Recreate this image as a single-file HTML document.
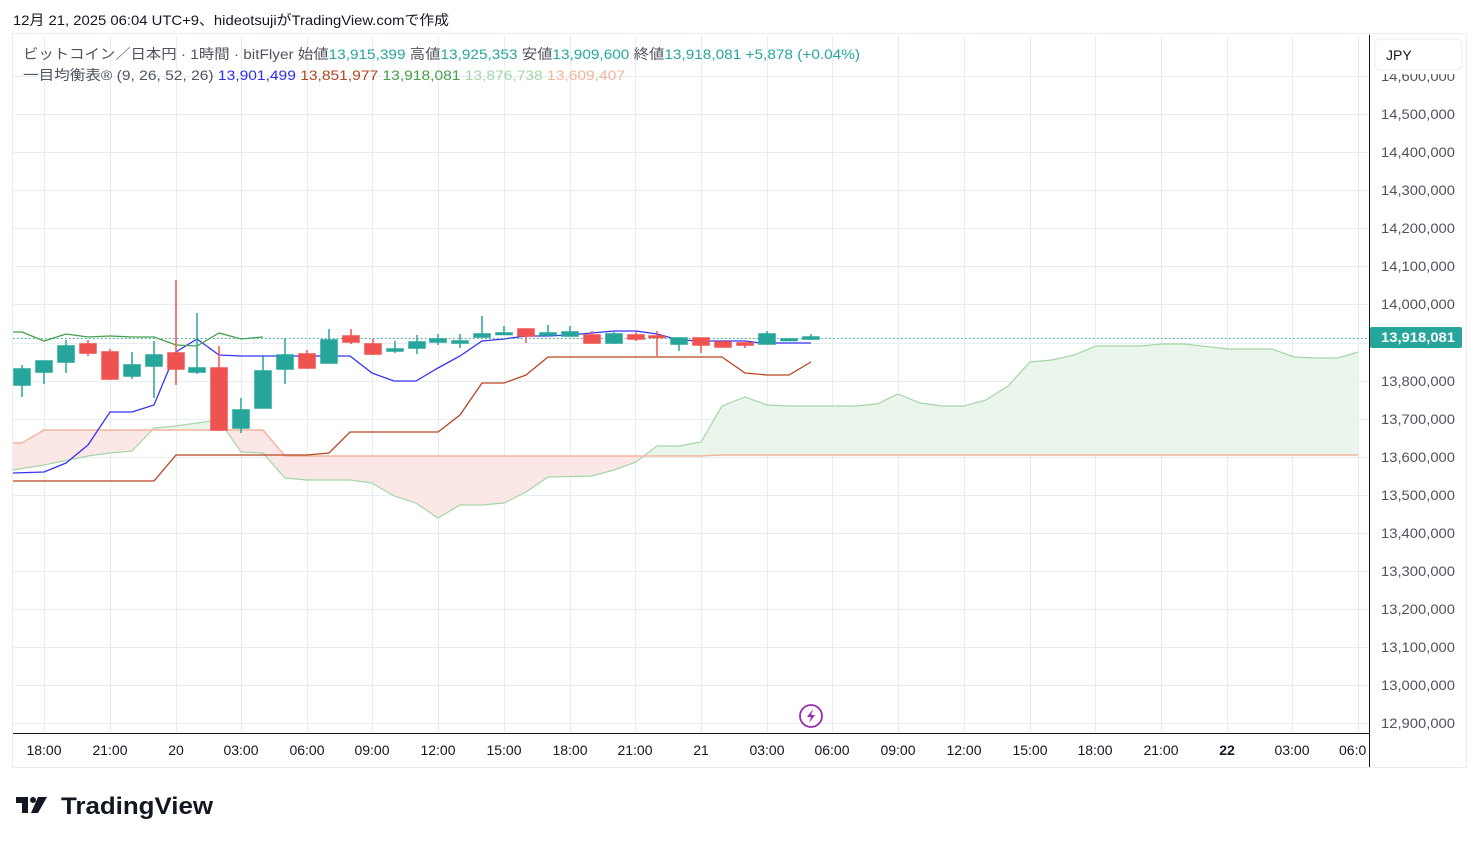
<!DOCTYPE html>
<html><head><meta charset="utf-8"><style>
html,body{margin:0;padding:0;background:#fff;width:1479px;height:843px;overflow:hidden;font-family:"Liberation Sans","Noto Sans CJK JP",sans-serif}
</style></head><body>
<svg width="1479" height="843" xmlns="http://www.w3.org/2000/svg" font-family="'Liberation Sans','Noto Sans CJK JP',sans-serif" xml:space="preserve">
<text x="13" y="25" font-size="14" fill="#131722" textLength="436" lengthAdjust="spacingAndGlyphs">12月 21, 2025 06:04 UTC+9、hideotsujiがTradingView.comで作成</text>
<rect x="12.5" y="33.5" width="1454" height="734" fill="none" stroke="#e9ecf1"/>
<g stroke="#e6edf3" stroke-width="1">
<line x1="13" x2="1369" y1="76.5" y2="76.5"/><line x1="13" x2="1369" y1="114.5" y2="114.5"/><line x1="13" x2="1369" y1="152.5" y2="152.5"/><line x1="13" x2="1369" y1="190.5" y2="190.5"/><line x1="13" x2="1369" y1="228.5" y2="228.5"/><line x1="13" x2="1369" y1="266.5" y2="266.5"/><line x1="13" x2="1369" y1="304.5" y2="304.5"/><line x1="13" x2="1369" y1="343.5" y2="343.5"/><line x1="13" x2="1369" y1="381.5" y2="381.5"/><line x1="13" x2="1369" y1="419.5" y2="419.5"/><line x1="13" x2="1369" y1="457.5" y2="457.5"/><line x1="13" x2="1369" y1="495.5" y2="495.5"/><line x1="13" x2="1369" y1="533.5" y2="533.5"/><line x1="13" x2="1369" y1="571.5" y2="571.5"/><line x1="13" x2="1369" y1="609.5" y2="609.5"/><line x1="13" x2="1369" y1="647.5" y2="647.5"/><line x1="13" x2="1369" y1="685.5" y2="685.5"/><line x1="13" x2="1369" y1="723.5" y2="723.5"/>
<line y1="35" y2="733" x1="44.5" x2="44.5"/><line y1="35" y2="733" x1="110.5" x2="110.5"/><line y1="35" y2="733" x1="176.5" x2="176.5"/><line y1="35" y2="733" x1="241.5" x2="241.5"/><line y1="35" y2="733" x1="307.5" x2="307.5"/><line y1="35" y2="733" x1="372.5" x2="372.5"/><line y1="35" y2="733" x1="438.5" x2="438.5"/><line y1="35" y2="733" x1="504.5" x2="504.5"/><line y1="35" y2="733" x1="570.5" x2="570.5"/><line y1="35" y2="733" x1="635.5" x2="635.5"/><line y1="35" y2="733" x1="701.5" x2="701.5"/><line y1="35" y2="733" x1="767.5" x2="767.5"/><line y1="35" y2="733" x1="832.5" x2="832.5"/><line y1="35" y2="733" x1="898.5" x2="898.5"/><line y1="35" y2="733" x1="964.5" x2="964.5"/><line y1="35" y2="733" x1="1030.5" x2="1030.5"/><line y1="35" y2="733" x1="1095.5" x2="1095.5"/><line y1="35" y2="733" x1="1161.5" x2="1161.5"/><line y1="35" y2="733" x1="1227.5" x2="1227.5"/><line y1="35" y2="733" x1="1292.5" x2="1292.5"/><line y1="35" y2="733" x1="1358.5" x2="1358.5"/>
</g>
<defs>
<clipPath id="above"><polygon points="13,443 22,443 44,430 263,430 285,456 307,456 700,456 722,455 1360,455 1360,0 13,0"/></clipPath>
<clipPath id="below"><polygon points="13,443 22,443 44,430 263,430 285,456 307,456 700,456 722,455 1360,455 1360,800 13,800"/></clipPath>
</defs>
<g>
<polygon clip-path="url(#above)" fill="#e8f5e9" fill-opacity="0.9" points="13,470 44,465 88,456 110,453 132,451 154,428 176,426 197,423 219,420 241,452 263,453 285,478 307,480 350,480 372,483 394,496 416,503 438,518 460,505 482,505 504,503 526,492 548,477 592,476 614,470 636,462 657,446 679,446 701,442 722,406 745,397 767,405 789,406 855,406 877,404 898,394 920,403 942,406 964,406 986,400 1008,386 1030,362 1052,360 1074,355 1096,346 1140,346 1162,344 1184,344 1228,349 1272,349 1294,357 1316,358 1338,358 1358,352 1358,455 722,455 700,456 307,456 285,456 263,430 44,430 22,443 13,443"/>
<polygon clip-path="url(#below)" fill="#fce4e4" fill-opacity="0.9" points="13,470 44,465 88,456 110,453 132,451 154,428 176,426 197,423 219,420 241,452 263,453 285,478 307,480 350,480 372,483 394,496 416,503 438,518 460,505 482,505 504,503 526,492 548,477 592,476 614,470 636,462 657,446 679,446 701,442 722,406 745,397 767,405 789,406 855,406 877,404 898,394 920,403 942,406 964,406 986,400 1008,386 1030,362 1052,360 1074,355 1096,346 1140,346 1162,344 1184,344 1228,349 1272,349 1294,357 1316,358 1338,358 1358,352 1358,455 722,455 700,456 307,456 285,456 263,430 44,430 22,443 13,443"/>
<polyline fill="none" stroke="#a5d6a7" stroke-width="1.2" points="13,470 44,465 88,456 110,453 132,451 154,428 176,426 197,423 219,420 241,452 263,453 285,478 307,480 350,480 372,483 394,496 416,503 438,518 460,505 482,505 504,503 526,492 548,477 592,476 614,470 636,462 657,446 679,446 701,442 722,406 745,397 767,405 789,406 855,406 877,404 898,394 920,403 942,406 964,406 986,400 1008,386 1030,362 1052,360 1074,355 1096,346 1140,346 1162,344 1184,344 1228,349 1272,349 1294,357 1316,358 1338,358 1358,352"/>
<polyline fill="none" stroke="#f4b59a" stroke-width="1.5" points="13,443 22,443 44,430 263,430 285,456 307,456 700,456 722,455 1358,455"/>
</g>
<polyline fill="none" stroke="#b5461f" stroke-width="1.3" points="13,481 154,481 176,455 307,455 329,453 350,432 438,432 460,415 482,383 504,383 526,375 548,357 722,357 745,373 767,375 789,375 811,362"/>
<polyline fill="none" stroke="#3434f5" stroke-width="1.3" points="13,473 44,472 66,463 88,445 110,412 132,412 154,405 176,352 197,339 219,355 241,356 350,356 372,373 394,381 416,381 438,368 460,356 482,341 504,339 526,336 548,336 570,335 614,331 636,331 657,334 679,340 701,341 745,341 760,343 811,343"/>
<polyline fill="none" stroke="#43a047" stroke-width="1.3" points="13,332 22,332 44,341 66,334 88,337 110,336 132,337 154,337 176,345 197,346 219,333 241,339 263,337"/>
<line x1="13" x2="1369" y1="338.5" y2="338.5" stroke="#26a69a" stroke-dasharray="1.5,2.5" stroke-width="1"/>
<g stroke-width="1.5">
<g stroke="#26a69a" fill="#26a69a">
<line x1="22" x2="22" y1="365" y2="397"/><rect x="14" y="369" width="16" height="16"/>
<line x1="44" x2="44" y1="361" y2="384"/><rect x="36" y="361" width="16" height="11"/>
<line x1="66" x2="66" y1="340" y2="373"/><rect x="58" y="346" width="16" height="16"/>
<line x1="132" x2="132" y1="352" y2="379"/><rect x="124" y="365" width="16" height="11"/>
<line x1="154" x2="154" y1="341" y2="398"/><rect x="146" y="355" width="16" height="11"/>
<line x1="197" x2="197" y1="313" y2="374"/><rect x="189" y="368" width="16" height="4"/>
<line x1="241" x2="241" y1="398" y2="433"/><rect x="233" y="410" width="16" height="18"/>
<line x1="263" x2="263" y1="355" y2="408"/><rect x="255" y="371" width="16" height="37"/>
<line x1="285" x2="285" y1="338" y2="384"/><rect x="277" y="355" width="16" height="14"/>
<line x1="329" x2="329" y1="329" y2="363"/><rect x="321" y="340" width="16" height="23"/>
<line x1="395" x2="395" y1="341" y2="353"/><rect x="387" y="349" width="16" height="2"/>
<line x1="417" x2="417" y1="335" y2="354"/><rect x="409" y="342" width="16" height="6"/>
<line x1="438" x2="438" y1="334" y2="345"/><rect x="430" y="339" width="16" height="3"/>
<line x1="460" x2="460" y1="334" y2="348"/><rect x="452" y="341" width="16" height="2"/>
<line x1="482" x2="482" y1="316" y2="337"/><rect x="474" y="334" width="16" height="3"/>
<line x1="504" x2="504" y1="326" y2="335"/><rect x="496" y="333" width="16" height="1.5"/>
<line x1="548" x2="548" y1="325" y2="336"/><rect x="540" y="333" width="16" height="2"/>
<line x1="570" x2="570" y1="326" y2="336"/><rect x="562" y="332" width="16" height="4"/>
<line x1="614" x2="614" y1="332" y2="344"/><rect x="606" y="334" width="16" height="9"/>
<line x1="679" x2="679" y1="338" y2="351"/><rect x="671" y="338" width="16" height="6"/>
<line x1="767" x2="767" y1="331" y2="344"/><rect x="759" y="334" width="16" height="10"/>
<rect x="781" y="339" width="16" height="1.5"/>
<line x1="811" x2="811" y1="334" y2="340"/><rect x="803" y="337" width="16" height="2"/>
</g>
<g stroke="#ef5350" fill="#ef5350">
<line x1="88" x2="88" y1="340" y2="356"/><rect x="80" y="344" width="16" height="9"/>
<line x1="110" x2="110" y1="349" y2="380"/><rect x="102" y="352" width="16" height="27"/>
<line x1="176" x2="176" y1="280" y2="385"/><rect x="168" y="353" width="16" height="16"/>
<line x1="219" x2="219" y1="346" y2="431"/><rect x="211" y="368" width="16" height="62"/>
<line x1="307" x2="307" y1="350" y2="368"/><rect x="299" y="354" width="16" height="14"/>
<line x1="351" x2="351" y1="329" y2="344"/><rect x="343" y="336" width="16" height="6"/>
<line x1="373" x2="373" y1="339" y2="355"/><rect x="365" y="344" width="16" height="10"/>
<line x1="526" x2="526" y1="329" y2="343"/><rect x="518" y="329" width="16" height="7"/>
<line x1="592" x2="592" y1="331" y2="343"/><rect x="584" y="335" width="16" height="8"/>
<line x1="636" x2="636" y1="332" y2="341"/><rect x="628" y="335" width="16" height="4"/>
<line x1="657" x2="657" y1="331" y2="356"/><rect x="649" y="336" width="16" height="1.5"/>
<line x1="701" x2="701" y1="338" y2="353"/><rect x="693" y="338" width="16" height="7"/>
<line x1="723" x2="723" y1="340" y2="347"/><rect x="715" y="342" width="16" height="5"/>
<line x1="745" x2="745" y1="341" y2="348"/><rect x="737" y="343" width="16" height="2"/>
</g>
</g>
<circle cx="811" cy="716" r="11" fill="#fff" stroke="#9c27b0" stroke-width="1.8"/>
<path d="M813,709 L807,717 L811,717 L809,723 L815,715 L811,715 Z" fill="#9c27b0"/>
<line x1="1369.5" x2="1369.5" y1="35" y2="767" stroke="#131722"/>
<line x1="13" x2="1369" y1="733.5" y2="733.5" stroke="#131722"/>
<g font-size="14" fill="#50535e" text-anchor="end">
<text x="1455" y="81" textLength="74" lengthAdjust="spacingAndGlyphs">14,600,000</text>
<text x="1455" y="119" textLength="74" lengthAdjust="spacingAndGlyphs">14,500,000</text><text x="1455" y="157" textLength="74" lengthAdjust="spacingAndGlyphs">14,400,000</text><text x="1455" y="195" textLength="74" lengthAdjust="spacingAndGlyphs">14,300,000</text><text x="1455" y="233" textLength="74" lengthAdjust="spacingAndGlyphs">14,200,000</text><text x="1455" y="271" textLength="74" lengthAdjust="spacingAndGlyphs">14,100,000</text><text x="1455" y="309" textLength="74" lengthAdjust="spacingAndGlyphs">14,000,000</text><text x="1455" y="386" textLength="74" lengthAdjust="spacingAndGlyphs">13,800,000</text><text x="1455" y="424" textLength="74" lengthAdjust="spacingAndGlyphs">13,700,000</text><text x="1455" y="462" textLength="74" lengthAdjust="spacingAndGlyphs">13,600,000</text><text x="1455" y="500" textLength="74" lengthAdjust="spacingAndGlyphs">13,500,000</text><text x="1455" y="538" textLength="74" lengthAdjust="spacingAndGlyphs">13,400,000</text><text x="1455" y="576" textLength="74" lengthAdjust="spacingAndGlyphs">13,300,000</text><text x="1455" y="614" textLength="74" lengthAdjust="spacingAndGlyphs">13,200,000</text><text x="1455" y="652" textLength="74" lengthAdjust="spacingAndGlyphs">13,100,000</text><text x="1455" y="690" textLength="74" lengthAdjust="spacingAndGlyphs">13,000,000</text><text x="1455" y="728" textLength="74" lengthAdjust="spacingAndGlyphs">12,900,000</text>
</g>
<rect x="1371" y="35" width="95" height="39" fill="#fff"/>
<rect x="1375" y="39" width="87" height="31" rx="5" fill="#fff" stroke="#eceef2"/>
<text x="1386" y="60" font-size="14" fill="#131722">JPY</text>
<rect x="1370" y="327" width="92" height="21" rx="2" fill="#26a69a"/>
<text x="1455" y="342" font-size="14" fill="#fff" text-anchor="end" font-weight="bold" textLength="74" lengthAdjust="spacingAndGlyphs">13,918,081</text>
<g font-size="14" fill="#131722" text-anchor="middle">
<text x="44" y="755">18:00</text><text x="110" y="755">21:00</text><text x="176" y="755">20</text><text x="241" y="755">03:00</text><text x="307" y="755">06:00</text><text x="372" y="755">09:00</text><text x="438" y="755">12:00</text><text x="504" y="755">15:00</text><text x="570" y="755">18:00</text><text x="635" y="755">21:00</text><text x="701" y="755">21</text><text x="767" y="755">03:00</text><text x="832" y="755">06:00</text><text x="898" y="755">09:00</text><text x="964" y="755">12:00</text><text x="1030" y="755">15:00</text><text x="1095" y="755">18:00</text><text x="1161" y="755">21:00</text><text x="1227" y="755" font-weight="bold">22</text><text x="1292" y="755">03:00</text><text x="1339" y="755" text-anchor="start">06:0</text>
</g>
<g font-size="14">
<text x="23" y="59" fill="#50535e" textLength="837" lengthAdjust="spacingAndGlyphs">ビットコイン／日本円 · 1時間 · bitFlyer  始値<tspan fill="#26a69a">13,915,399</tspan>  高値<tspan fill="#26a69a">13,925,353</tspan>  安値<tspan fill="#26a69a">13,909,600</tspan>  終値<tspan fill="#26a69a">13,918,081</tspan>  <tspan fill="#26a69a">+5,878 (+0.04%)</tspan></text>
<text x="23" y="80" fill="#50535e" textLength="602" lengthAdjust="spacingAndGlyphs">一目均衡表® (9, 26, 52, 26)  <tspan fill="#2e2ef0">13,901,499</tspan>  <tspan fill="#b5461f">13,851,977</tspan>  <tspan fill="#43a047">13,918,081</tspan>  <tspan fill="#a5d6a7">13,876,738</tspan>  <tspan fill="#f4b59a">13,609,407</tspan></text>
</g>
<g fill="#131722">
<path d="M16,797 h12 v16 h-6 v-10 h-6 z"/>
<circle cx="33" cy="800" r="3"/>
<path d="M38,797 h9 l-9,16 h-7 z"/>
</g>
<text x="61" y="814" font-size="24" font-weight="bold" fill="#131722" textLength="152" lengthAdjust="spacingAndGlyphs">TradingView</text>
</svg>
</body></html>
